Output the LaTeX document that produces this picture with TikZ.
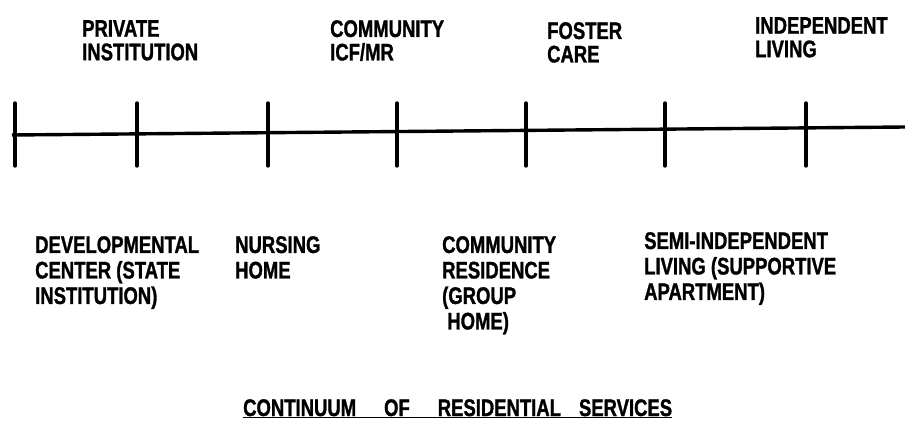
\documentclass[tikz,border=0pt]{standalone}
\usepackage{fontspec}
\setmainfont{Liberation Sans}[FakeStretch=0.77,FakeBold=1.2]
\begin{document}
\begin{tikzpicture}[x=1pt,y=-1pt,
  lbl/.style={anchor=north west,inner sep=0pt,align=left,font=\fontsize{24}{25.5}\selectfont\bfseries},
  toplbl/.style={lbl,font=\fontsize{24}{23.5}\selectfont\bfseries},
  tick/.style={line width=3.4pt,line cap=round},
  axis/.style={line width=3.4pt}]
\useasboundingbox (0,0) rectangle (905,441);
% axis
\coordinate (L) at (12,135);
\coordinate (R) at (905,127);
\draw[axis] (L) -- (R);
% ticks
\foreach \n/\x in {t1/15,t2/137,t3/268,t4/397,t5/526,t6/665,t7/806}{
  \coordinate (\n a) at (\x,103);
  \coordinate (\n b) at (\x,166);
  \draw[tick] (\n a) -- (\n b);
}
% top labels
\node[toplbl] (priv) at (82,20) {PRIVATE\\INSTITUTION};
\node[toplbl] (icf) at (330,20) {COMMUNITY\\ICF/MR};
\node[toplbl] (fost) at (547,22) {FOSTER\\CARE};
\node[toplbl] (indep) at (755,17) {INDEPENDENT\\LIVING};
% bottom labels
\node[lbl] (dev) at (35,236) {DEVELOPMENTAL\\CENTER (STATE\\INSTITUTION)};
\node[lbl] (nurs) at (235,236) {NURSING\\HOME};
\node[lbl] (cres) at (442,236) {COMMUNITY\\RESIDENCE\\(GROUP\\\ HOME)};
\node[lbl] (semi) at (644,232) {SEMI-INDEPENDENT\\LIVING (SUPPORTIVE\\APARTMENT)};
% title
\node[lbl,anchor=base west] (title) at (243,416) {\underline{CONTINUUM\hspace{28pt}OF\hspace{28pt}RESIDENTIAL\hspace{18pt}SERVICES}};
\end{tikzpicture}
\end{document}
